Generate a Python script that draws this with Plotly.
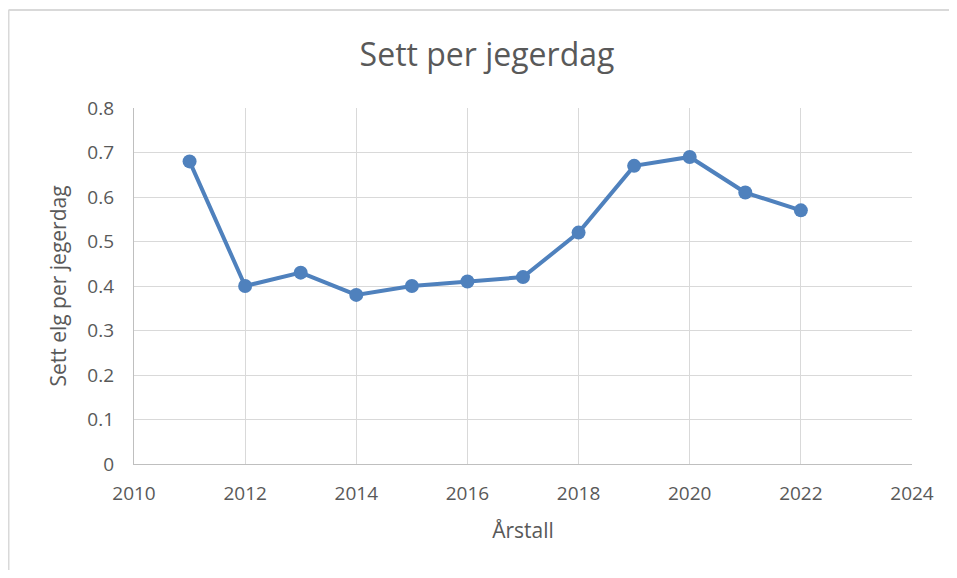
import plotly.graph_objects as go

years = [2011, 2012, 2013, 2014, 2015, 2016, 2017, 2018, 2019, 2020, 2021, 2022]
seen_per_day = [0.68, 0.40, 0.43, 0.38, 0.40, 0.41, 0.42, 0.52, 0.67, 0.69, 0.61, 0.57]

title_text = "Sett per jegerdag"
x_title = "Årstall"
y_title = "Sett elg per jegerdag"

blue = "#4f81bd"
grey_text = "#595959"
grid = "#d9d9d9"

fig = go.Figure()

fig.add_trace(
    go.Scatter(
        x=years, y=seen_per_day, mode="lines+markers",
        line=dict(color=blue, width=4),
        marker=dict(color=blue, size=14),
        cliponaxis=False,
    )
)

# page body adds an 8px margin, so keep the figure inside the window (no scrollbars)
fig.update_layout(
    width=941, height=562,
    margin=dict(l=126, r=37, t=100, b=106),
    paper_bgcolor="white", plot_bgcolor="white",
    font=dict(family="Open Sans", color=grey_text, size=19),
    showlegend=False,
    title=dict(text=title_text, x=479 / 941, xanchor="center", y=1 - 47 / 562, yanchor="middle",
               font=dict(size=32, color=grey_text)),
    xaxis=dict(
        range=[2010, 2024], dtick=2, tick0=2010,
        showgrid=True, gridcolor=grid, gridwidth=1.3,
        showline=True, linecolor="#bfbfbf", linewidth=1.3,
        zeroline=False, ticks="", ticklabelstandoff=12,
        title=dict(text=x_title, standoff=18, font=dict(size=21)),
    ),
    yaxis=dict(
        range=[0, 0.8], dtick=0.1, tick0=0,
        showgrid=True, gridcolor=grid, gridwidth=1.3,
        showline=True, linecolor="#bfbfbf", linewidth=1.3,
        zeroline=False, ticks="", ticklabelstandoff=15,
        title=dict(text=y_title, standoff=14, font=dict(size=21)),
    ),
    # light frame: top and left edges of the chart box
    shapes=[
        dict(type="line", xref="paper", yref="paper",
             x0=-0.1613, x1=1.1, y0=1.2753, y1=1.2753,
             line=dict(color="#d9d9d9", width=2), layer="below"),
        dict(type="line", xref="paper", yref="paper",
             x0=-0.1613, x1=-0.1613, y0=-0.4, y1=1.2753,
             line=dict(color="#d9d9d9", width=2), layer="below"),
    ],
)

fig.write_html("out.html")
